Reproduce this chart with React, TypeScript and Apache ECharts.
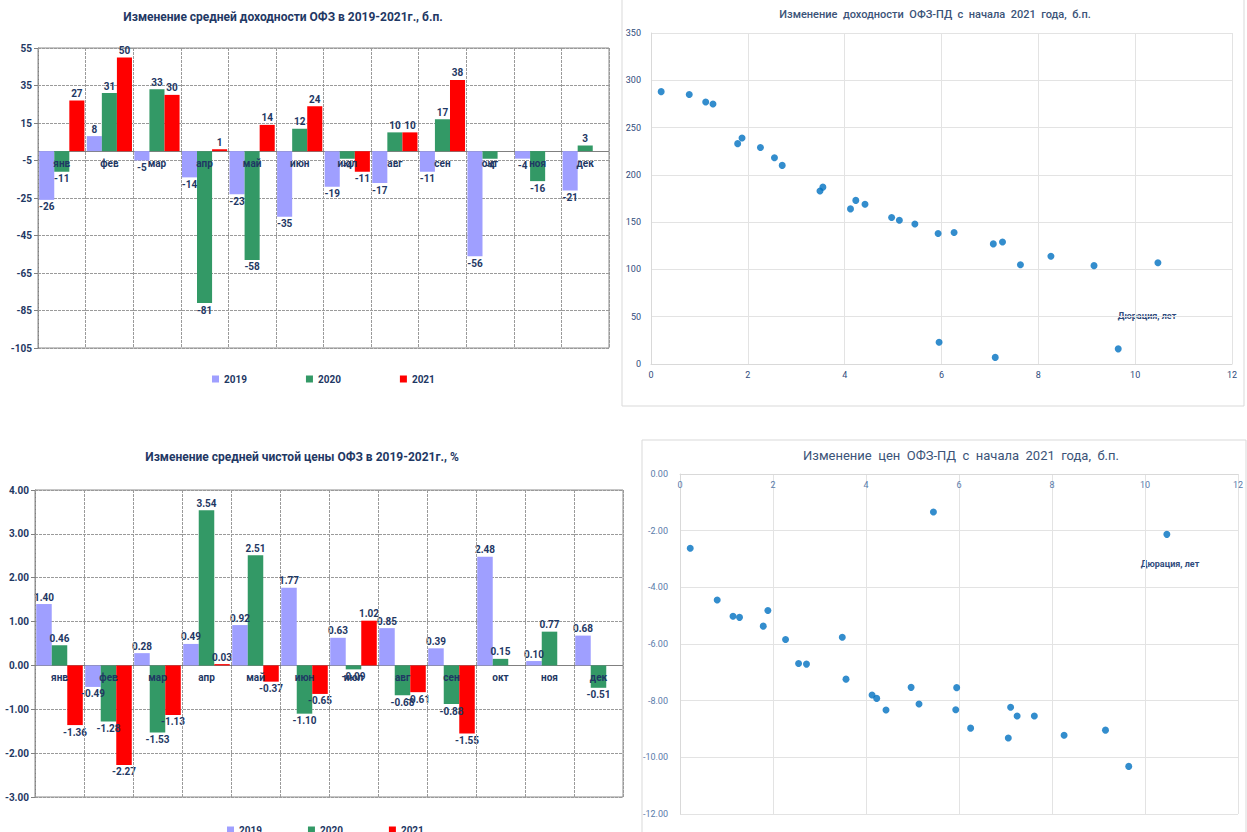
import { useEffect, useRef } from "react";
import * as echarts from "echarts";

// Monthly change of average OFZ yield (b.p.) and clean price (%)
const months = ["янв", "фев", "мар", "апр", "май", "июн", "июл", "авг", "сен", "окт", "ноя", "дек"];
const years = ["2019", "2020", "2021"];

const yield2019 = [-26, 8, -5, -14, -23, -35, -19, -17, -11, -56, -4, -21];
const yield2020 = [-11, 31, 33, -81, -58, 12, -4, 10, 17, -4, -16, 3];
const yield2021 = [27, 50, 30, 1, 14, 24, -11, 10, 38, null, null, null];

const price2019 = [1.4, -0.49, 0.28, 0.49, 0.92, 1.77, 0.63, 0.85, 0.39, 2.48, 0.1, 0.68];
const price2020 = [0.46, -1.28, -1.53, 3.54, 2.51, -1.1, -0.09, -0.68, -0.88, 0.15, 0.77, -0.51];
const price2021 = [-1.36, -2.27, -1.13, 0.03, -0.37, -0.65, 1.02, -0.61, -1.55, null, null, null];

// OFZ-PD since the start of 2021: duration (years) vs yield change (b.p.)
const durationYield = [
  0.21, 0.79, 1.13, 1.28, 1.79, 1.88, 2.26, 2.55, 2.71, 3.49, 3.55, 4.12, 4.23, 4.42,
  4.97, 5.13, 5.45, 5.93, 6.26, 7.07, 7.26, 7.63, 8.26, 9.15, 10.47, 5.95, 7.11, 9.65,
];
const yieldChange = [
  288, 285, 277, 275, 233, 239, 229, 218, 210, 183, 187, 164, 173, 169,
  155, 152, 148, 138, 139, 127, 129, 105, 114, 104, 107, 23, 7, 16,
];

// OFZ-PD since the start of 2021: duration (years) vs price change
const durationPrice = [
  0.22, 0.8, 1.14, 1.28, 1.79, 1.89, 2.27, 2.55, 2.72, 3.49, 3.57, 4.13, 4.23, 4.43,
  4.97, 5.14, 5.45, 5.95, 5.93, 6.25, 7.06, 7.11, 7.25, 7.62, 8.26, 9.15, 9.65, 10.47,
];
const priceChange = [
  -2.62, -4.45, -5.02, -5.06, -5.37, -4.82, -5.84, -6.69, -6.71, -5.76, -7.24, -7.8, -7.92, -8.33,
  -7.53, -8.12, -1.34, -7.54, -8.32, -8.97, -9.32, -8.23, -8.54, -8.54, -9.22, -9.04, -10.32, -2.13,
];

const barColors = ["#9F9FFF", "#339966", "#FF0000"];
const NAVY = "#1F3864";
const FONT = "Roboto, 'Noto Sans', sans-serif";

// Plot rectangles of the two bar charts (px)
const yieldGrid = { left: 38, top: 48, width: 571, height: 300 };
const priceGrid = { left: 35, top: 490, width: 588, height: 307 };
const yieldRange = { min: -105, max: 55, interval: 20 };
const priceRange = { min: -3, max: 4, interval: 1 };

function barData(values: (number | null)[]) {
  return values.map((v) =>
    v == null ? "-" : { value: v, label: { position: v < 0 ? "bottom" : "top" } }
  );
}

function barSeries(
  name: string,
  values: (number | null)[],
  idx: number,
  color: string,
  digits: number,
  withZeroLine = false
) {
  const s: any = {
    type: "bar",
    name,
    xAxisIndex: idx,
    yAxisIndex: idx,
    data: barData(values),
    barGap: "0%",
    barCategoryGap: "5%",
    itemStyle: { color },
    label: {
      show: true,
      distance: 2,
      color: NAVY,
      fontWeight: "bold",
      fontSize: 10,
      fontFamily: FONT,
      formatter: (p: any) => Number(p.value).toFixed(digits),
    },
  };
  if (withZeroLine) {
    s.markLine = {
      silent: true,
      symbol: "none",
      z: 1,
      label: { show: false },
      lineStyle: { color: "#808080", type: "solid", width: 1 },
      data: [{ yAxis: 0 }],
    };
  }
  return s;
}

const dashed = { color: "#9A9A9A", type: [3, 1] as any, width: 1 };

// Month labels sit just under the zero line, so the axis is lifted from the plot's bottom edge to zero
function categoryAxis(gridIndex: number, g: { top: number; height: number }, r: { min: number; max: number }) {
  const zeroFromBottom = (g.height * (0 - r.min)) / (r.max - r.min);
  return {
    type: "category",
    gridIndex,
    data: months,
    offset: -zeroFromBottom,
    z: 6,
    axisLine: { show: false },
    axisTick: { show: false },
    axisLabel: { color: NAVY, fontWeight: "bold", fontSize: 10, fontFamily: FONT, margin: 7 },
    splitLine: { show: true, lineStyle: dashed },
  };
}

function scatterXAxis(gridIndex: number, color: string, extra: any = {}) {
  return {
    type: "value",
    gridIndex,
    min: 0,
    max: 12,
    interval: 2,
    axisLine: { onZero: true, lineStyle: { color: "#D9D9D9" } },
    axisTick: { show: false },
    axisLabel: { color, fontSize: 9, fontFamily: FONT, margin: 6 },
    splitLine: { show: true, lineStyle: { color: "#E3E3E3" } },
    ...extra,
  };
}

export default function App() {
  const ref = useRef<HTMLDivElement>(null);

  useEffect(() => {
    if (!ref.current) return;
    const chart = echarts.init(ref.current, undefined, { renderer: "svg" });

    const option: any = {
      animation: false,
      backgroundColor: "#FFFFFF",
      textStyle: { fontFamily: FONT },
      grid: [
        { ...yieldGrid, show: true, borderColor: "#8C8C8C", borderWidth: 1 },
        { ...priceGrid, show: true, borderColor: "#8C8C8C", borderWidth: 1 },
        { left: 651, right: 15, top: 33, bottom: 468 },
        { left: 680, right: 9, top: 474, bottom: 18 },
      ],
      legend: [
        {
          left: 207,
          top: 369,
          data: years,
          icon: "rect",
          itemWidth: 7,
          itemHeight: 7,
          itemGap: 59,
          textStyle: { color: NAVY, fontWeight: "bold", fontSize: 10, fontFamily: FONT },
        },
        {
          left: 222,
          top: 820,
          data: years,
          icon: "rect",
          itemWidth: 7,
          itemHeight: 7,
          itemGap: 46,
          textStyle: { color: NAVY, fontWeight: "bold", fontSize: 10, fontFamily: FONT },
        },
      ],
      xAxis: [
        categoryAxis(0, yieldGrid, yieldRange),
        categoryAxis(1, priceGrid, priceRange),
        scatterXAxis(2, "#2F4B7C"),
        scatterXAxis(3, "#5A7BAA", {
          position: "top",
          axisLabel: { color: "#5A7BAA", fontSize: 9, fontFamily: FONT, margin: 6, inside: true },
        }),
      ],
      yAxis: [
        {
          type: "value",
          gridIndex: 0,
          ...yieldRange,
          axisLine: { show: true, lineStyle: { color: "#808080" } },
          axisTick: { show: true, length: 4, lineStyle: { color: "#808080" } },
          axisLabel: { color: NAVY, fontWeight: "bold", fontSize: 10, fontFamily: FONT, margin: 6 },
          splitLine: { show: true, lineStyle: dashed },
        },
        {
          type: "value",
          gridIndex: 1,
          ...priceRange,
          axisLine: { show: true, lineStyle: { color: "#808080" } },
          axisTick: { show: true, length: 4, lineStyle: { color: "#808080" } },
          axisLabel: {
            color: NAVY,
            fontWeight: "bold",
            fontSize: 10,
            fontFamily: FONT,
            margin: 6,
            formatter: (v: number) => v.toFixed(2),
          },
          splitLine: { show: true, lineStyle: dashed },
        },
        {
          type: "value",
          gridIndex: 2,
          min: 0,
          max: 350,
          interval: 50,
          axisLine: { show: true, lineStyle: { color: "#D9D9D9" } },
          axisTick: { show: false },
          axisLabel: { color: "#2F4B7C", fontSize: 9, fontFamily: FONT, margin: 10 },
          splitLine: { show: true, lineStyle: { color: "#E3E3E3" } },
        },
        {
          type: "value",
          gridIndex: 3,
          min: -12,
          max: 0,
          interval: 2,
          axisLine: { show: true, lineStyle: { color: "#D9D9D9" } },
          axisTick: { show: false },
          axisLabel: {
            color: "#5A7BAA",
            fontSize: 9,
            fontFamily: FONT,
            margin: 12,
            formatter: (v: number) => v.toFixed(2),
          },
          splitLine: { show: true, lineStyle: { color: "#E3E3E3" } },
        },
      ],
      series: [
        barSeries("2019", yield2019, 0, barColors[0], 0, true),
        barSeries("2020", yield2020, 0, barColors[1], 0),
        barSeries("2021", yield2021, 0, barColors[2], 0),
        barSeries("2019", price2019, 1, barColors[0], 2, true),
        barSeries("2020", price2020, 1, barColors[1], 2),
        barSeries("2021", price2021, 1, barColors[2], 2),
        {
          type: "scatter",
          name: "Доходность",
          xAxisIndex: 2,
          yAxisIndex: 2,
          symbolSize: 7,
          itemStyle: { color: "#0070C0" },
          data: durationYield.map((d, i) => [d, yieldChange[i]]),
        },
        {
          type: "scatter",
          name: "Цена",
          xAxisIndex: 3,
          yAxisIndex: 3,
          symbolSize: 7,
          itemStyle: { color: "#0070C0" },
          data: durationPrice.map((d, i) => [d, priceChange[i]]),
        },
      ],
      graphic: [
        {
          type: "rect",
          z: -10,
          shape: { x: 622, y: -1, width: 622, height: 407 },
          style: { fill: "none", stroke: "#D9D9D9", lineWidth: 1 },
        },
        {
          type: "rect",
          z: -10,
          shape: { x: 642, y: 440, width: 604, height: 400 },
          style: { fill: "none", stroke: "#D9D9D9", lineWidth: 1 },
        },
        {
          type: "text",
          x: 283,
          y: 17,
          style: {
            text: "Изменение средней доходности ОФЗ в 2019-2021г., б.п.",
            fill: NAVY,
            font: `bold 12px ${FONT}`,
            textAlign: "center",
            textVerticalAlign: "middle",
          },
        },
        {
          type: "text",
          x: 302,
          y: 457,
          style: {
            text: "Изменение средней чистой цены ОФЗ в 2019-2021г., %",
            fill: NAVY,
            font: `bold 12px ${FONT}`,
            textAlign: "center",
            textVerticalAlign: "middle",
          },
        },
        {
          type: "text",
          x: 935,
          y: 14,
          style: {
            text: "Изменение  доходности  ОФЗ-ПД  с  начала  2021  года,  б.п.",
            fill: "#3B5378",
            font: `500 11px ${FONT}`,
            textAlign: "center",
            textVerticalAlign: "middle",
          },
        },
        {
          type: "text",
          x: 961,
          y: 455,
          style: {
            text: "Изменение  цен  ОФЗ-ПД  с  начала  2021  года,  б.п.",
            fill: "#3B5378",
            font: `13px ${FONT}`,
            textAlign: "center",
            textVerticalAlign: "middle",
          },
        },
        {
          type: "text",
          x: 1147,
          y: 316,
          style: {
            text: "Дюрация, лет",
            fill: "#2F4B7C",
            font: `bold 9px ${FONT}`,
            textAlign: "center",
            textVerticalAlign: "middle",
          },
        },
        {
          type: "text",
          x: 1170,
          y: 564,
          style: {
            text: "Дюрация, лет",
            fill: "#2F4B7C",
            font: `bold 9px ${FONT}`,
            textAlign: "center",
            textVerticalAlign: "middle",
          },
        },
      ],
    };

    chart.setOption(option);
    return () => chart.dispose();
  }, []);

  return (
    <div
      ref={ref}
      style={{ position: "absolute", left: 0, top: 0, width: 1247, height: 832 }}
    />
  );
}
